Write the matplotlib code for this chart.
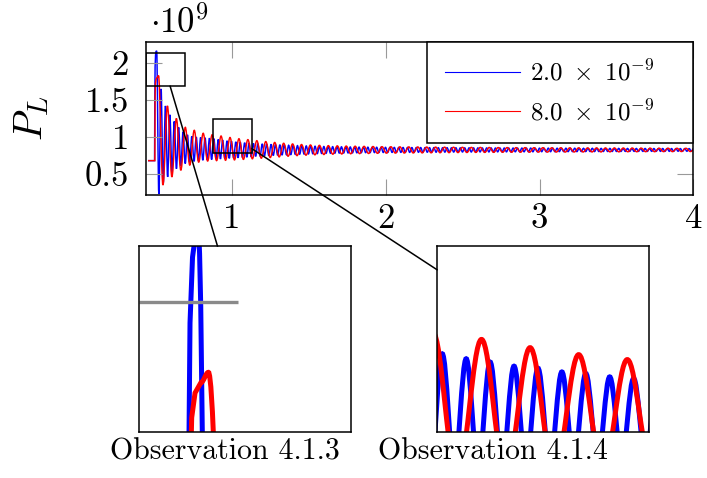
import numpy as np
import matplotlib
matplotlib.use("Agg")
import matplotlib.pyplot as plt
from matplotlib.path import Path
from matplotlib.patches import PathPatch, Rectangle
from matplotlib.lines import Line2D
from matplotlib.ticker import FuncFormatter

plt.rcParams.update({"font.family": "cmr10", "mathtext.fontset": "cm",
                     "axes.unicode_minus": False})

# ---------- data (P_L in units of 1e9, time on x) ----------
labels = [r"$2.0\ \times\ 10^{-9}$", r"$8.0\ \times\ 10^{-9}$"]
colors = ["blue", "red"]

# blue run: flat start, sharp first spike, then peaks/troughs every half period
blue_lead_t = [0.455, 0.4975, 0.499, 0.501, 0.504, 0.507]
blue_lead_v = [0.68, 0.68, 1.50, 1.95, 2.11, 2.155]
blue_t0, blue_period = 0.511, 0.0286
blue_peaks = [
    2.165, 1.65, 1.42, 1.30, 1.21, 1.13, 1.07, 1.03, 1.01, 1.00,
    0.995, 0.99, 0.984, 0.978, 0.966, 0.958, 0.948, 0.943, 0.934, 0.930,
    0.922, 0.918, 0.912, 0.909, 0.906, 0.903, 0.900, 0.897, 0.894, 0.891,
    0.888, 0.885, 0.883, 0.881, 0.879, 0.877, 0.875, 0.873, 0.871, 0.870,
    0.869, 0.868, 0.867, 0.866, 0.865, 0.864, 0.863, 0.862, 0.862, 0.861,
    0.861, 0.860, 0.860, 0.859, 0.859, 0.858, 0.858, 0.858, 0.857, 0.857,
    0.857, 0.856, 0.856, 0.856, 0.855, 0.855, 0.855, 0.854, 0.854, 0.853,
    0.853, 0.853, 0.853, 0.852, 0.852, 0.852, 0.852, 0.851, 0.851, 0.851,
    0.851, 0.850, 0.850, 0.850, 0.850, 0.850, 0.849, 0.849, 0.849, 0.849,
    0.849, 0.848, 0.848, 0.848, 0.848, 0.848, 0.847, 0.847, 0.847, 0.847,
    0.847, 0.846, 0.846, 0.846, 0.846, 0.846, 0.845, 0.845, 0.845, 0.845,
    0.845, 0.845, 0.844, 0.844, 0.844, 0.844, 0.844, 0.843, 0.843, 0.843,
    0.843, 0.843, 0.843]
blue_troughs = [
    0.23, 0.37, 0.46, 0.52, 0.57, 0.61, 0.64, 0.66, 0.67, 0.68,
    0.685, 0.69, 0.695, 0.70, 0.703, 0.707, 0.711, 0.715, 0.719, 0.723,
    0.727, 0.731, 0.738, 0.741, 0.744, 0.747, 0.750, 0.753, 0.756, 0.759,
    0.762, 0.765, 0.767, 0.769, 0.771, 0.773, 0.775, 0.777, 0.779, 0.780,
    0.781, 0.782, 0.783, 0.784, 0.785, 0.786, 0.787, 0.788, 0.788, 0.789,
    0.789, 0.790, 0.790, 0.791, 0.791, 0.792, 0.792, 0.792, 0.793, 0.793,
    0.793, 0.794, 0.794, 0.794, 0.795, 0.795, 0.795, 0.796, 0.796, 0.797,
    0.797, 0.797, 0.797, 0.798, 0.798, 0.798, 0.798, 0.799, 0.799, 0.799,
    0.799, 0.800, 0.800, 0.800, 0.800, 0.800, 0.801, 0.801, 0.801, 0.801,
    0.801, 0.802, 0.802, 0.802, 0.802, 0.802, 0.803, 0.803, 0.803, 0.803,
    0.803, 0.804, 0.804, 0.804, 0.804, 0.804, 0.805, 0.805, 0.805, 0.805,
    0.805, 0.805, 0.806, 0.806, 0.806, 0.806, 0.806, 0.807, 0.807, 0.807,
    0.807, 0.807, 0.807]

# red run: slower oscillation (twice the period), larger swing
red_lead_t = [0.455, 0.4995, 0.501, 0.503, 0.507, 0.514]
red_lead_v = [0.68, 0.68, 1.55, 1.72, 1.78, 1.805]
red_t0, red_period = 0.523, 0.0581
red_peaks = [
    1.83, 1.42, 1.25, 1.13, 1.09, 1.05, 1.03, 1.013, 0.993, 0.976,
    0.964, 0.950, 0.938, 0.926, 0.915, 0.906, 0.898, 0.892, 0.887, 0.883,
    0.880, 0.877, 0.875, 0.873, 0.871, 0.869, 0.868, 0.867, 0.866, 0.865,
    0.864, 0.863, 0.862, 0.861, 0.860, 0.859, 0.859, 0.858, 0.857, 0.857,
    0.856, 0.856, 0.855, 0.855, 0.854, 0.854, 0.853, 0.853, 0.852, 0.852,
    0.851, 0.851, 0.850, 0.850, 0.849, 0.849, 0.848, 0.848, 0.847, 0.847,
    0.846, 0.846]
red_troughs = [
    0.35, 0.46, 0.55, 0.62, 0.66, 0.675, 0.68, 0.685, 0.69, 0.697,
    0.705, 0.713, 0.722, 0.731, 0.740, 0.748, 0.754, 0.759, 0.763, 0.767,
    0.770, 0.773, 0.775, 0.777, 0.779, 0.781, 0.782, 0.783, 0.784, 0.785,
    0.786, 0.787, 0.788, 0.789, 0.790, 0.791, 0.791, 0.792, 0.793, 0.793,
    0.794, 0.794, 0.795, 0.795, 0.796, 0.796, 0.797, 0.797, 0.798, 0.798,
    0.799, 0.799, 0.800, 0.800, 0.801, 0.801, 0.802, 0.802, 0.803, 0.803,
    0.804, 0.804]

xticks = [1, 2, 3, 4]
yticks = [0.5, 1, 1.5, 2]
spy_boxes = [(0.44, 1.685), (0.8765, 0.788)]   # lower-left corners of zoom boxes
spy_w, spy_h = 0.2535, 0.452
captions = ["Observation 4.1.3", "Observation 4.1.4"]


def wave(lead_t, lead_v, t0, period, peaks, troughs):
    ext_v = np.column_stack([peaks, troughs]).ravel()
    ext_t = t0 + 0.5 * period * np.arange(len(ext_v))
    verts = list(zip(lead_t, lead_v))
    codes = [Path.MOVETO] + [Path.LINETO] * (len(verts) - 1)
    pt, pv = verts[-1]
    for t, v in zip(ext_t, ext_v):
        h = 0.364 * (t - pt)
        verts += [(pt + h, pv), (t - h, v), (t, v)]
        codes += [Path.CURVE4] * 3
        pt, pv = t, v
    return Path(verts, codes)


paths = [wave(blue_lead_t, blue_lead_v, blue_t0, blue_period, blue_peaks, blue_troughs),
         wave(red_lead_t, red_lead_v, red_t0, red_period, red_peaks, red_troughs)]

TG = "#999999"
fig = plt.figure(figsize=(7.07, 4.78), dpi=100)
ax = fig.add_axes([0.2061, 0.5921, 0.7748, 0.3207])
for p, c in zip(paths, colors):
    ax.add_patch(PathPatch(p, fill=False, edgecolor=c, lw=1.05))
ax.set_xlim(0.44, 4.0); ax.set_ylim(0.216, 2.288)
ax.set_xticks(xticks); ax.set_yticks(yticks)
ax.xaxis.set_major_formatter(FuncFormatter(lambda v, _: f"{v:g}"))
ax.yaxis.set_major_formatter(FuncFormatter(lambda v, _: f"{v:g}"))
ax.tick_params(direction="in", top=True, right=True, length=11.5, width=0.8,
               color=TG, labelsize=25)
ax.tick_params(axis="y", pad=12)
ax.tick_params(axis="x", pad=6)
for s in ax.spines.values():
    s.set_linewidth(1.1)
ax.set_ylabel(r"$P_L$", fontsize=29, labelpad=24)
ax.text(0.008, 1.057, r"$\cdot10^{9}$", transform=ax.transAxes, ha="left", va="baseline",
        fontsize=25)

handles = [Line2D([], [], color=c, lw=0.8) for c in colors]
leg = ax.legend(handles, labels, loc="upper right", bbox_to_anchor=(0.5135, 0, 0.4865, 1.0),
                mode="expand", borderaxespad=0, fontsize=18, borderpad=0.72,
                labelspacing=0.56, handlelength=3.0, handletextpad=0.4,
                fancybox=False, framealpha=1, edgecolor="black")
leg.get_frame().set_linewidth(1.1)

rects = []
for x0, y0 in spy_boxes:
    r = Rectangle((x0, y0), spy_w, spy_h, fill=False, edgecolor="black", lw=1.1, zorder=5)
    ax.add_patch(r); rects.append(r)

inset_pos = [[0.1966, 0.0962, 0.2999, 0.3891], [0.6181, 0.0962, 0.2999, 0.3891]]
insets = []
for pos, (x0, y0) in zip(inset_pos, spy_boxes):
    axi = fig.add_axes(pos)
    for p, c in zip(paths, colors):
        axi.add_patch(PathPatch(p, fill=False, edgecolor=c, lw=3.6))
    axi.set_xlim(x0, x0 + spy_w); axi.set_ylim(y0, y0 + spy_h)
    axi.set_xticks([]); axi.set_yticks([])
    for s in axi.spines.values():
        s.set_linewidth(1.1)
    insets.append(axi)
# magnified y tick of the main axes seen in the first zoom
insets[0].set_yticks([2])
insets[0].tick_params(axis="y", direction="in", length=71, width=2.4, color="#8a8a8a",
                      labelleft=False)

# connector lines between box centre and inset centre, clipped to both frames
inv = fig.transFigure.inverted()
for r, axi in zip(rects, insets):
    ba = r.get_window_extent(); bb = axi.get_window_extent()
    ca = np.array([(ba.x0 + ba.x1) / 2, (ba.y0 + ba.y1) / 2])
    cb = np.array([(bb.x0 + bb.x1) / 2, (bb.y0 + bb.y1) / 2])
    d = cb - ca
    sa = min(ba.width / 2 / abs(d[0]), ba.height / 2 / abs(d[1]))
    sb = min(bb.width / 2 / abs(d[0]), bb.height / 2 / abs(d[1]))
    p0, p1 = inv.transform([ca + d * sa, cb - d * sb])
    fig.add_artist(Line2D([p0[0], p1[0]], [p0[1], p1[1]], color="black", lw=1.1,
                          transform=fig.transFigure))

for x, txt in zip([0.318, 0.6966], captions):
    fig.text(x, 0.054, txt, ha="center", va="center", fontsize=21.5)

fig.savefig("out.png", dpi=100)
